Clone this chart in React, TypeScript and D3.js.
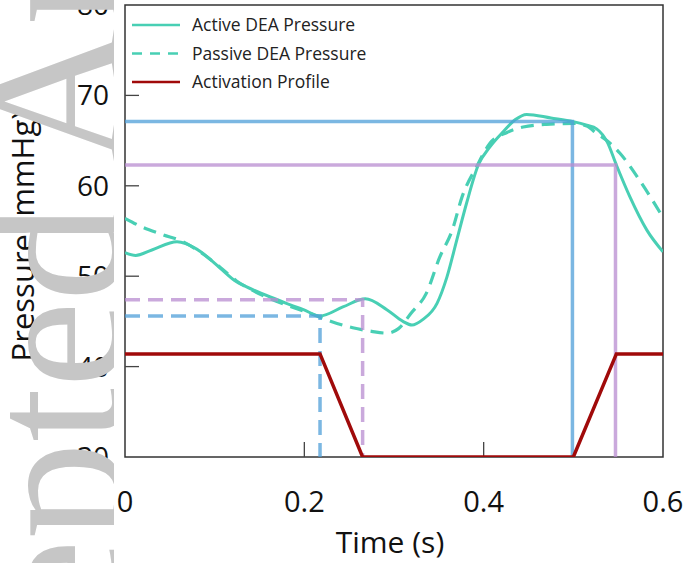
import React from 'react'
import * as d3 from 'd3'

// time (s) / pressure (mmHg)
const activeT = [0, 0.012, 0.03, 0.058, 0.08, 0.106, 0.124, 0.143, 0.162, 0.18, 0.199, 0.2175, 0.243, 0.268, 0.292, 0.31, 0.32, 0.332, 0.348, 0.359, 0.37, 0.381, 0.394, 0.407, 0.422, 0.435, 0.448, 0.475, 0.5, 0.515, 0.526, 0.538, 0.548, 0.563, 0.582, 0.6]
const activeP = [52.6, 52.3, 52.9, 53.8, 53.0, 50.9, 49.4, 48.5, 47.7, 47.0, 46.3, 45.6, 46.6, 47.5, 46.3, 45.0, 44.6, 45.2, 47.0, 49.9, 54.0, 58.1, 62.3, 64.3, 66.0, 67.3, 67.9, 67.5, 67.1, 66.7, 66.3, 64.8, 62.3, 58.8, 55.1, 52.7]

const passiveT = [0, 0.02, 0.042, 0.065, 0.085, 0.106, 0.124, 0.143, 0.162, 0.18, 0.206, 0.23, 0.254, 0.275, 0.292, 0.305, 0.319, 0.336, 0.351, 0.365, 0.376, 0.392, 0.407, 0.426, 0.444, 0.47, 0.5, 0.515, 0.526, 0.54, 0.552, 0.574, 0.6]
const passiveP = [56.4, 55.4, 54.6, 53.8, 52.6, 51.0, 49.5, 48.4, 47.5, 46.8, 45.9, 45.0, 44.3, 43.9, 43.7, 44.2, 45.9, 48.1, 52.1, 55.1, 58.8, 62.1, 64.7, 65.9, 66.5, 66.8, 66.9, 66.6, 65.8, 64.8, 63.6, 60.6, 56.5]

const activationT = [0, 0.2175, 0.265, 0.5, 0.548, 0.6]
const activationP = [41.4, 41.4, 30, 30, 41.4, 41.4]

// guide lines: [time, pressure]
const guideNames = ['blueDash', 'purpleDash', 'blueSolid', 'purpleSolid']
const guideT = [0.2175, 0.265, 0.499, 0.547]
const guideP = [45.6, 47.4, 67.1, 62.3]

const xTicks = [0, 0.2, 0.4, 0.6]
const yTicks = [30, 40, 50, 60, 70, 80]
const legendLabels = ['Active DEA Pressure', 'Passive DEA Pressure', 'Activation Profile']

const W = 688
const H = 563
const plot = { left: 125, right: 663, top: 5, bottom: 457 }

const TEAL = '#48cfb4'
const RED = '#a00a0a'
const BLUE = '#4f9fd8'
const PURPLE = '#b88cd0'
const SANS = '"Open Sans", "Noto Sans", sans-serif'

export default function App() {
  const x = d3.scaleLinear().domain([0, 0.6]).range([plot.left, plot.right])
  const y = d3.scaleLinear().domain([30, 80]).range([plot.bottom, plot.top])

  const line = d3
    .line<[number, number]>()
    .x(d => x(d[0]))
    .y(d => y(d[1]))
    .curve(d3.curveMonotoneX)
  const straight = d3
    .line<[number, number]>()
    .x(d => x(d[0]))
    .y(d => y(d[1]))

  const zip = (ts: number[], ps: number[]) => ts.map((t, i) => [t, ps[i]] as [number, number])

  const guides = guideNames.map((name, i) => ({
    name,
    dashed: name.includes('Dash'),
    color: name.startsWith('blue') ? BLUE : PURPLE,
    d: straight([
      [0, guideP[i]],
      [guideT[i], guideP[i]],
      [guideT[i], 30],
    ]),
  }))

  const legendStyles = [
    { color: TEAL, dash: undefined },
    { color: TEAL, dash: '10,8' },
    { color: RED, dash: undefined },
  ]

  return (
    <svg
      width={W}
      height={H}
      style={{ position: 'absolute', left: 0, top: 0, display: 'block', background: '#fff' }}
    >
      <defs>
        <clipPath id="plot-clip">
          <rect x={plot.left} y={plot.top} width={plot.right - plot.left} height={plot.bottom - plot.top} />
        </clipPath>
        <clipPath id="mark-clip">
          <rect x={0} y={0} width={114} height={H} />
        </clipPath>
      </defs>

      {/* frame */}
      <rect
        x={plot.left}
        y={plot.top}
        width={plot.right - plot.left}
        height={plot.bottom - plot.top}
        fill="none"
        stroke="#333"
        strokeWidth={1.5}
      />
      {yTicks.slice(1, -1).map(t => (
        <line key={'yt' + t} x1={plot.left} x2={plot.left + 14} y1={y(t)} y2={y(t)} stroke="#444" strokeWidth={1.3} />
      ))}
      {xTicks.slice(1, -1).map(t => (
        <line key={'xt' + t} x1={x(t)} x2={x(t)} y1={plot.bottom} y2={plot.bottom - 15} stroke="#444" strokeWidth={1.3} />
      ))}

      {/* tick labels */}
      {yTicks.map(t => (
        <text key={'yl' + t} x={109} y={y(t)} dy="0.36em" textAnchor="end" fontFamily={SANS} fontSize={28} fill="#111">
          {t}
        </text>
      ))}
      {xTicks.map(t => (
        <text key={'xl' + t} x={x(t)} y={512} textAnchor="middle" fontFamily={SANS} fontSize={29} fill="#111">
          {t}
        </text>
      ))}
      <text x={390} y={553} textAnchor="middle" fontFamily={SANS} fontSize={30} fill="#111">
        Time (s)
      </text>
      <text
        transform={`translate(34,236) rotate(-90)`}
        textAnchor="middle"
        fontFamily={SANS}
        fontSize={31}
        fill="#111"
      >
        Pressure (mmHg)
      </text>

      <g clipPath="url(#plot-clip)">
        <path d={line(zip(passiveT, passiveP)) || ''} fill="none" stroke={TEAL} strokeWidth={3.2} strokeDasharray="13,8" />
        <path d={line(zip(activeT, activeP)) || ''} fill="none" stroke={TEAL} strokeWidth={3} />
        {guides.map(g => (
          <path
            key={g.name}
            d={g.d || ''}
            fill="none"
            stroke={g.color}
            strokeOpacity={0.75}
            strokeWidth={3.5}
            strokeDasharray={g.dashed ? '15,8' : undefined}
          />
        ))}
        <path d={straight(zip(activationT, activationP)) || ''} fill="none" stroke={RED} strokeWidth={3.5} />
      </g>

      {/* legend */}
      {legendLabels.map((label, i) => (
        <g key={label} transform={`translate(0,${25 + i * 28.5})`}>
          <line
            x1={132}
            x2={180}
            y1={0}
            y2={0}
            stroke={legendStyles[i].color}
            strokeWidth={2.5}
            strokeDasharray={legendStyles[i].dash}
          />
          <text x={192} y={6} fontFamily={SANS} fontSize={17.5} fill="#222">
            {label}
          </text>
        </g>
      ))}

      {/* journal watermark */}
      <g clipPath="url(#mark-clip)">
        <text
          transform="translate(120,940) rotate(-90)"
          fontFamily='"Liberation Serif", serif'
          fontSize={195}
          fill="#c6c6c6"
        >
          Accepted Article
        </text>
      </g>
    </svg>
  )
}
